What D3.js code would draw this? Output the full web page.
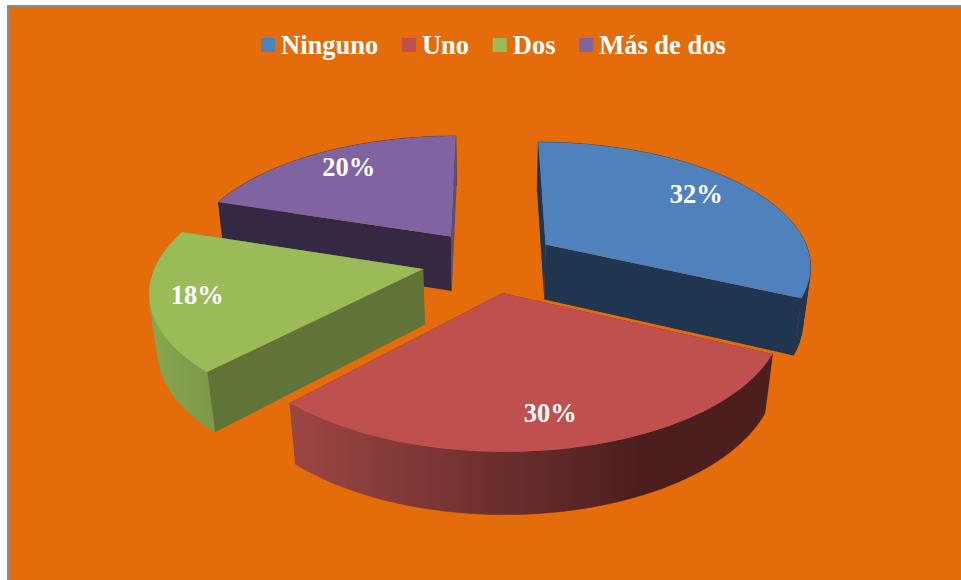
<!DOCTYPE html>
<html lang="es">
<head>
<meta charset="utf-8">
<title>Pie</title>
<style>
html,body{margin:0;padding:0;background:#fff;overflow:hidden}
svg{display:block}
text{font-family:"Liberation Serif",serif;font-weight:700;fill:#fff;font-size:26.5px}
</style>
<script src="https://cdn.jsdelivr.net/npm/d3@7/dist/d3.min.js"></script>
</head>
<body>
<svg id="c" width="961" height="580"></svg>
<script>
const categories = ["Ninguno", "Uno", "Dos", "Más de dos"];
const values = [32, 30, 18, 20];
const topColors = ["#4f81bd", "#c0504d", "#9bbb59", "#8064a2"];
const startWallColors = ["#1f3550", "#6e2b29", "#5f7436", "#352842"];
const endWallColors = ["#1f3550", "#6e2b29", "#5f7436", "#5f4b7c"];
const outerStops = [
  [[0, "#1f3550"], [1, "#1f3550"]],
  [[0, "#9c4644"], [0.72, "#4c1f1e"], [1, "#4c1f1e"]],
  [[0, "#89a650"], [1, "#7c9849"]],
  [[0, "#352842"], [1, "#352842"]]
];
const drawOrder = [3, 0, 2, 1];
const labelNudgeX = [-11, -2, -9, 5];
const labelNudgeY = [-3, 0, 0, -1];

const W = 961, H = 580;
const cx = 489.5, cy = 261;     // projected centre of the pie
const R = 266, A = 123, D = 57; // horizontal scale, vertical scale, extrusion
const k = 0.155, kz = 0.025;    // perspective strengths
const explode = 0.255, labelR = 0.8;

const svg = d3.select("#c");
const defs = svg.append("defs");
svg.append("rect").attr("x", 8).attr("y", 6).attr("width", W).attr("height", H)
  .attr("fill", "#e46c0a").attr("stroke", "#8c8c8c").attr("stroke-width", 2);

// world (X right, Y away from viewer, z down) -> screen
function project(X, Y, z) {
  const w = 1 + k * Y + kz * z;
  return [cx + R * X / w, cy + (-A * Y + D * z) / w];
}

const arcs = d3.pie().sort(null).value(d => d).startAngle(0).endAngle(2 * Math.PI)(values);
const line = d3.line();

const slices = arcs.map((a, i) => {
  const mid = (a.startAngle + a.endAngle) / 2;
  const ox = explode * Math.sin(mid), oy = explode * Math.cos(mid);
  const samples = d3.range(0, 65).map(j => a.startAngle + (a.endAngle - a.startAngle) * j / 64);
  const rim = z => samples.map(t => project(ox + Math.sin(t), oy + Math.cos(t), z));
  const apex = z => project(ox, oy, z);
  return {i, mid, ox, oy, a, rim, apex};
});

// gradient spans the swept outer wall in user space
slices.forEach(s => {
  const xs = s.rim(0).concat(s.rim(1)).map(p => p[0]);
  const g = defs.append("linearGradient").attr("id", "outer" + s.i)
    .attr("gradientUnits", "userSpaceOnUse")
    .attr("x1", d3.min(xs)).attr("x2", d3.max(xs)).attr("y1", 0).attr("y2", 0);
  outerStops[s.i].forEach(st => g.append("stop").attr("offset", st[0]).attr("stop-color", st[1]));
});

drawOrder.forEach(i => {
  const s = slices[i];
  const g = svg.append("g");
  const top = s.rim(0), bot = s.rim(1);

  // outer wall as a union of consistently wound quads, so its silhouette is the true sweep
  const drawOuter = () => {
    const d = d3.range(top.length - 1).map(j => {
      const q = [top[j], top[j + 1], bot[j + 1], bot[j]];
      if (d3.polygonArea(q) < 0) q.reverse();
      return line(q) + "Z";
    }).join("");
    g.append("path").attr("d", d).attr("fill", `url(#outer${i})`)
      .attr("stroke", `url(#outer${i})`).attr("stroke-width", 0.5);
  };
  const drawRadial = () => {
    const startQuad = [s.apex(0), top[0], bot[0], s.apex(1)];
    const endQuad = [s.apex(0), top[top.length - 1], bot[bot.length - 1], s.apex(1)];
    g.append("path").attr("d", line(startQuad) + "Z").attr("fill", startWallColors[i]);
    g.append("path").attr("d", line(endQuad) + "Z").attr("fill", endWallColors[i]);
  };

  // back-facing slices show their radial walls over the rim, front-facing the other way
  if (Math.cos(s.mid) > 0) { drawOuter(); drawRadial(); }
  else { drawRadial(); drawOuter(); }

  // top face
  g.append("path").attr("d", line([s.apex(0)].concat(top)) + "Z").attr("fill", topColors[i]);
});

// data labels
const total = d3.sum(values);
slices.forEach(s => {
  const p = project(s.ox + labelR * Math.sin(s.mid), s.oy + labelR * Math.cos(s.mid), 0);
  svg.append("text").attr("x", p[0] + labelNudgeX[s.i]).attr("y", p[1] + 9 + labelNudgeY[s.i])
    .attr("text-anchor", "middle")
    .text(d3.format(".0%")(values[s.i] / total));
});

// legend
let lx = 261;
const swatch = 14, legendBase = 54;
categories.forEach((c, i) => {
  svg.append("rect").attr("x", lx).attr("y", 38).attr("width", swatch).attr("height", swatch)
    .attr("fill", topColors[i]);
  const t = svg.append("text").attr("x", lx + swatch + 6).attr("y", legendBase).text(c);
  lx += swatch + 6 + t.node().getComputedTextLength() + 23.7;
});
</script>
</body>
</html>
